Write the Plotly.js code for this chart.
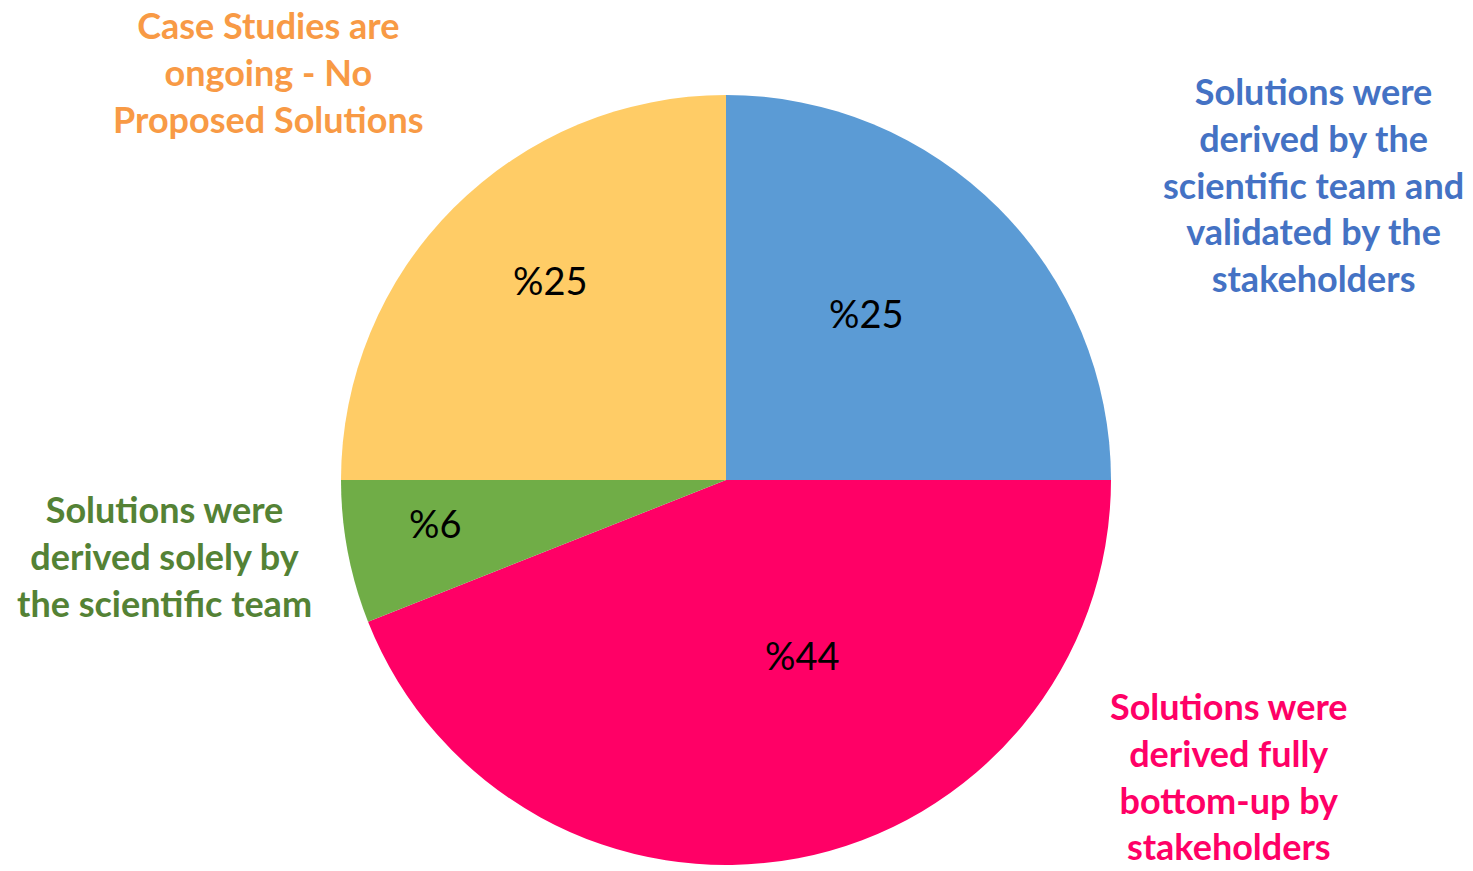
<!DOCTYPE html>
<html>
<head>
<meta charset="utf-8">
<script src="https://cdn.plot.ly/plotly-3.0.1.min.js"></script>
<style>html,body{margin:0;padding:0;background:#fff;}#chart{width:1473px;height:871px;}</style>
</head>
<body>
<div id="chart"></div>
<script>
// ---- data ----
const categories = [
  "Solutions were<br>derived by the<br>scientific team and<br>validated by the<br>stakeholders",
  "Solutions were<br>derived fully<br>bottom-up by<br>stakeholders",
  "Solutions were<br>derived solely by<br>the scientific team",
  "Case Studies are<br>ongoing - No<br>Proposed Solutions"
];
const values = [25, 44, 6, 25];
const sliceColors = ["#5B9BD5", "#FF0066", "#70AD47", "#FFCC66"];
const labelColors = ["#4472C4", "#FF0066", "#548235", "#F89A45"];

// ---- layout helpers (pixel positions of text blocks) ----
const W = 1473, H = 871;
const center = [726, 480], radius = 385;
const pctPos = [[866, 313], [802, 655], [435, 523], [550, 280]];
const catPos = [[1313, 184], [1229, 776], [164, 556], [268, 72]];
const px = x => x / W, py = y => 1 - y / H;

const trace = {
  type: "pie",
  values: values,
  labels: categories,
  marker: {colors: sliceColors, line: {width: 0}},
  sort: false,
  direction: "clockwise",
  rotation: 0,
  textinfo: "none",
  hoverinfo: "label+percent",
  showlegend: false,
  domain: {
    x: [px(center[0] - radius), px(center[0] + radius)],
    y: [py(center[1] + radius), py(center[1] - radius)]
  }
};

const annotations = [];
values.forEach((v, i) => {
  annotations.push({
    xref: "paper", yref: "paper",
    x: px(pctPos[i][0]), y: py(pctPos[i][1]),
    xanchor: "center", yanchor: "middle",
    text: "%" + v, showarrow: false,
    font: {family: "Lato, 'Open Sans', sans-serif", size: 38, color: "#000"}
  });
  annotations.push({
    xref: "paper", yref: "paper",
    x: px(catPos[i][0]), y: py(catPos[i][1]),
    xanchor: "center", yanchor: "middle", align: "center",
    text: "<b>" + categories[i] + "</b>", showarrow: false,
    font: {family: "Lato, 'Open Sans', sans-serif", size: 36, color: labelColors[i]}
  });
});

const layout = {
  width: W, height: H,
  margin: {l: 0, r: 0, t: 0, b: 0},
  paper_bgcolor: "#fff",
  plot_bgcolor: "#fff",
  annotations: annotations
};

Plotly.newPlot("chart", [trace], layout, {displayModeBar: false, staticPlot: true});
</script>
</body>
</html>
